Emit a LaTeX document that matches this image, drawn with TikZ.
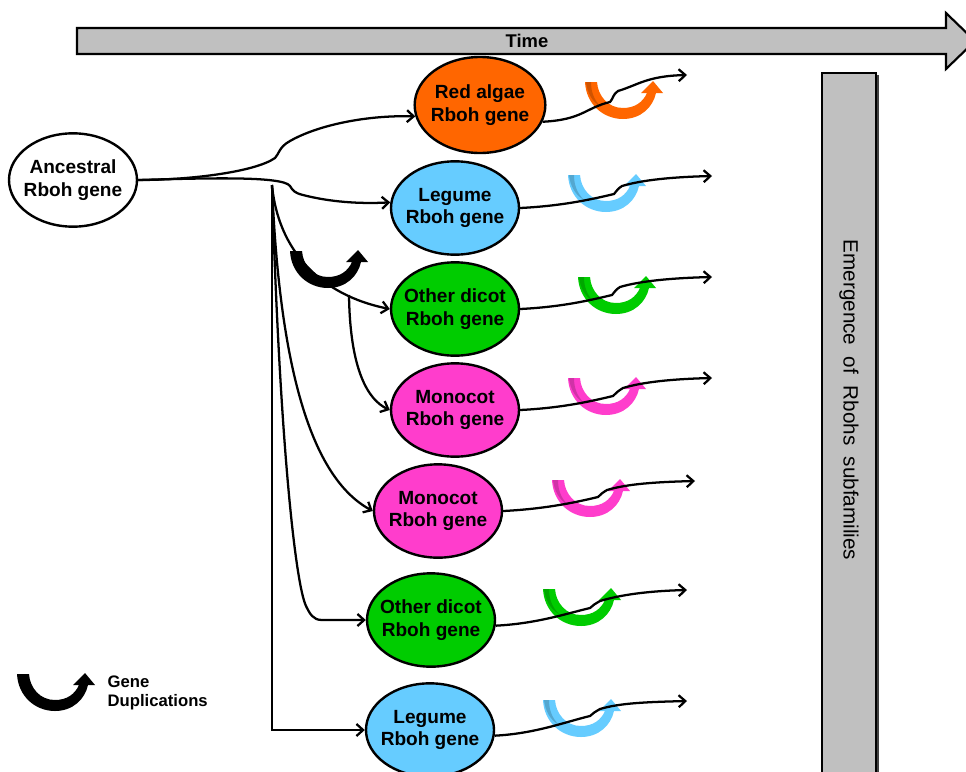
\documentclass[tikz,border=0pt]{standalone}
\usepackage{fontspec}
\setmainfont{Liberation Sans}
\usetikzlibrary{arrows.meta,shapes.geometric,calc}
\definecolor{gorange}{HTML}{FF6600}
\definecolor{gblue}{HTML}{66CCFF}
\definecolor{ggreen}{HTML}{00CC00}
\definecolor{gpink}{HTML}{FF3DCC}
\definecolor{bargray}{HTML}{C0C0C0}
\tikzset{
  gene/.style={ellipse,draw,line width=1.8pt,minimum width=96pt,minimum height=70pt,
    inner sep=0pt},
  genetext/.style={align=center,font=\fontsize{14.3}{17}\selectfont\bfseries},
  conn/.style={line width=1.7pt,-{Straight Barb[length=5pt,width=9pt]}},
  dupshape/.pic={
    \path[pic actions] (0,0) .. controls (1,22) and (18,37) .. (38,37)
      .. controls (56,37) and (68,25) .. (71,11) -- (78,11) -- (68,-1) -- (56,11) -- (62,11)
      .. controls (58,20) and (50,26) .. (38,26)
      .. controls (23,26) and (13,14) .. (12,0) -- cycle;
  },
  dupc/.pic={
    \path[fill=#1] (0,0) .. controls (1,22) and (18,37) .. (38,37)
      .. controls (56,37) and (68,25) .. (71,11) -- (78,11) -- (68,-1) -- (56,11) -- (62,11)
      .. controls (58,20) and (50,26) .. (38,26)
      .. controls (23,26) and (13,14) .. (12,0) -- cycle;
    \path[fill=#1!70!black,opacity=0.6] (1,0) -- (6,0) .. controls (6,10) and (9,18) .. (16,25)
      .. controls (7,20) and (2,10) .. (1,0) -- cycle;
  }
}
\begin{document}
\begin{tikzpicture}[x=0.75pt,y=-0.75pt]
\useasboundingbox (0,0) rectangle (966,771);

% time arrow
\draw[fill=bargray,line width=1.6pt] (77,28) -- (946,28) -- (946,13) -- (975,41)
  -- (946,69) -- (946,54) -- (77,54) -- cycle;
\node[font=\fontsize{13.8}{16}\selectfont\bfseries] (timelbl) at (527,41) {Time};

% emergence bar
\fill[black!75] (824,75) rectangle (878.5,790);
\draw[fill=bargray,line width=1.6pt] (822,73) rectangle (876,790);
\node[rotate=-90,font=\fontsize{15.5}{18}\selectfont] (barlbl) at (849,400)
  {Emergence\ \ of\ \ Rbohs\ \ subfamilies};

% coloured duplication arrows (behind lines)
\pic at (585,82) {dupc=gorange};
\pic at (568,175) {dupc=gblue};
\pic at (578,277) {dupc=ggreen};
\pic at (568,378) {dupc=gpink};
\pic at (552,480) {dupc=gpink};
\pic at (543,589) {dupc=ggreen};
\pic at (543,700) {dupc=gblue};
\pic[fill=black] at (290,251) {dupshape};

% gene nodes
\node[gene,fill=white,label={[genetext]center:Ancestral\\Rboh gene}] (anc) at (73,180) {};
\node[gene,fill=gorange,minimum width=98pt,minimum height=72pt,label={[genetext]center:Red algae\\Rboh gene}] (red) at (480,105) {};
\node[gene,fill=gblue,label={[genetext]center:Legume\\Rboh gene}] (leg1) at (455,208) {};
\node[gene,fill=ggreen,label={[genetext]center:Other dicot\\Rboh gene}] (od1) at (455,309) {};
\node[gene,fill=gpink,label={[genetext]center:Monocot\\Rboh gene}] (mo1) at (455,410) {};
\node[gene,fill=gpink,label={[genetext]center:Monocot\\Rboh gene}] (mo2) at (438,511) {};
\node[gene,fill=ggreen,label={[genetext]center:Other dicot\\Rboh gene}] (od2) at (431,620) {};
\node[gene,fill=gblue,label={[genetext]center:Legume\\Rboh gene}] (leg2) at (430,730) {};

% tree connectors
\draw[conn] (anc.east) .. controls (190,180) and (255,172) .. (275,158)
  .. controls (279,154) and (279,147) .. (290,141)
  .. controls (320,124) and (370,115) .. (red.190);
\draw[conn] (anc.east) .. controls (210,178) and (283,176) .. (290,186)
  .. controls (293,191) and (295,193) .. (303,195)
  .. controls (330,202) and (360,204) .. (leg1.175);
\coordinate (trunk) at (272,185);
\coordinate (mb) at (349,295);
\draw[conn] (trunk) |- (leg2.west);
\draw[conn] (trunk) .. controls (278,250) and (320,295) .. (od1.west);
\draw[conn] (mb) .. controls (350,370) and (368,400) .. (mo1.west);
\draw[conn] (trunk) .. controls (280,380) and (315,480) .. (mo2.west);
\draw[conn] (trunk) .. controls (280,450) and (296,585) .. (306,606)
  .. controls (310,614) and (313,620) .. (322,620) -- (od2.west);

% outgoing lines
\newcommand\outline[4]{\draw[conn] (#1) .. controls +(40,-2) and +(-25,6) .. (#2)
  .. controls +(3,-3) and +(-5,3) .. (#3) .. controls +(20,-6) and +(-40,1) .. (#4);}
\coordinate (t1) at (687,75);
\coordinate (t2) at (712,176);
\coordinate (t3) at (712,277);
\coordinate (t4) at (712,378);
\coordinate (t5) at (695,481);
\coordinate (t6) at (687,590);
\coordinate (t7) at (687,701);
\outline{red.-15}{610,102}{618,91}{t1}
\outline{leg1.east}{614,194}{622,186}{t2}
\outline{od1.east}{612,295}{620,287}{t3}
\outline{mo1.east}{613,396}{623,388}{t4}
\outline{mo2.east}{598,497}{607,490}{t5}
\outline{od2.-5}{590,608}{600,601}{t6}
\outline{leg2.-5}{590,716}{600,709}{t7}

% legend
\pic[fill=black] at (17,674) {dupshape};
\node[anchor=west,align=left,font=\fontsize{12.5}{14.3}\selectfont\bfseries] (legtxt) at (103,693)
  {Gene\\Duplications};
\end{tikzpicture}
\end{document}
